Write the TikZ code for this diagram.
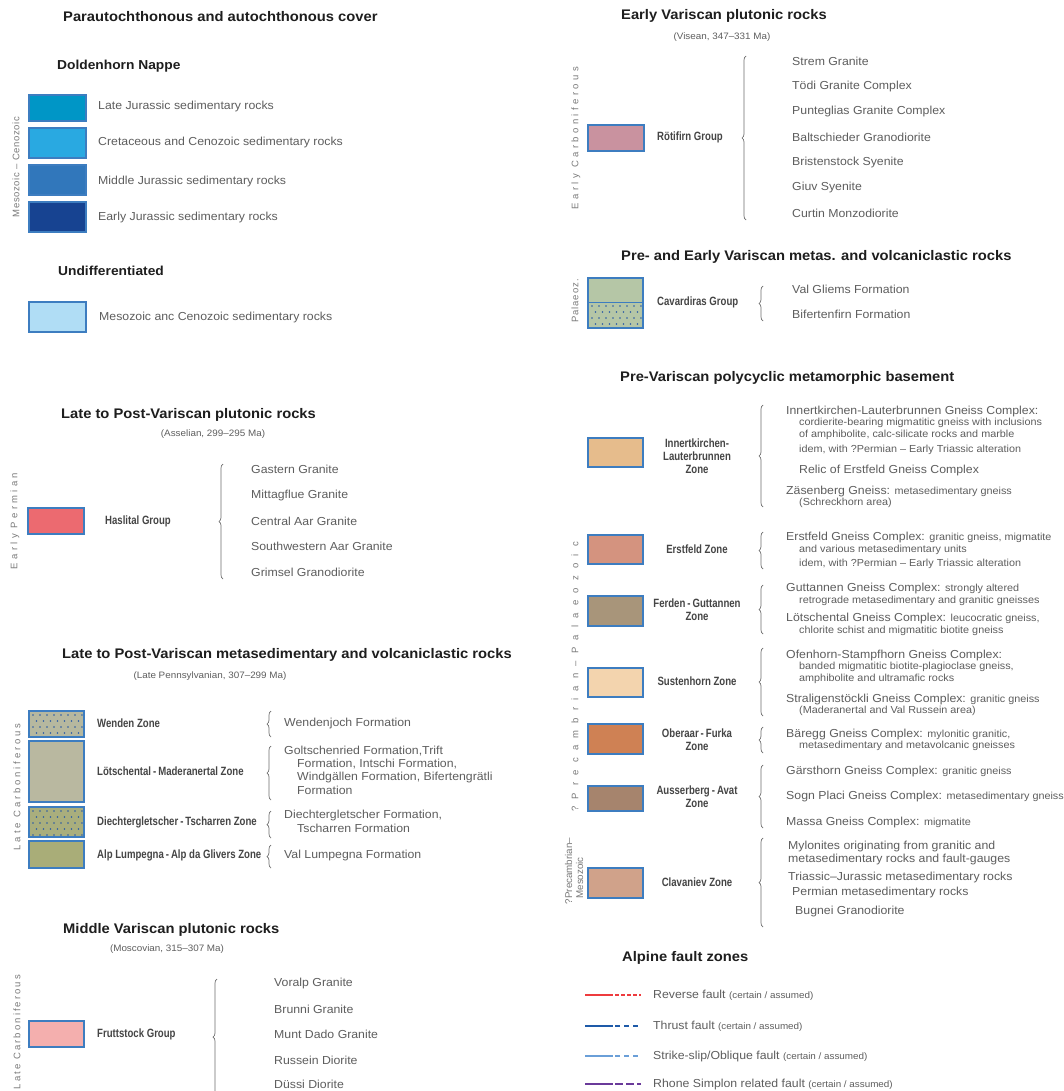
\documentclass[tikz,border=0pt]{standalone}
\usepackage{fontspec}
\setmainfont[FakeStretch=1.06]{Liberation Sans}
\newfontfamily\condfont[FakeStretch=0.8]{Liberation Sans}
\newfontfamily\rotfont{Liberation Sans}
\usetikzlibrary{decorations.pathreplacing}
\definecolor{txt}{HTML}{5E5E5E}
\definecolor{ttlc}{HTML}{1E1E1E}
\definecolor{grpc}{HTML}{454545}
\definecolor{rotc}{HTML}{7A7A7A}
\definecolor{boxc}{HTML}{3D7DC0}
\definecolor{brcc}{HTML}{6E6E6E}
\definecolor{dotc}{HTML}{2A5AA5}
\definecolor{cLJ}{HTML}{0096C6}
\definecolor{cCR}{HTML}{29A9E1}
\definecolor{cMJ}{HTML}{3177BB}
\definecolor{cEJ}{HTML}{174391}
\definecolor{cUD}{HTML}{B0DDF5}
\definecolor{cHA}{HTML}{EC6A70}
\definecolor{cWE}{HTML}{B6B89F}
\definecolor{cLO}{HTML}{B9B8A0}
\definecolor{cDI}{HTML}{A9AE7D}
\definecolor{cAL}{HTML}{A9AD78}
\definecolor{cFR}{HTML}{F4AFAE}
\definecolor{cRO}{HTML}{C9929F}
\definecolor{cCA}{HTML}{B5C6A6}
\definecolor{cIN}{HTML}{E6BC8C}
\definecolor{cER}{HTML}{D4937F}
\definecolor{cFE}{HTML}{A8957A}
\definecolor{cSU}{HTML}{F3D4AE}
\definecolor{cOB}{HTML}{CF8154}
\definecolor{cAU}{HTML}{A6846D}
\definecolor{cCL}{HTML}{D0A28A}
\definecolor{fRed}{HTML}{EE3B3E}
\definecolor{fBlue}{HTML}{1E5AA8}
\definecolor{fLight}{HTML}{6A9FD8}
\definecolor{fPurp}{HTML}{6A3A9A}
\newcommand\sml{\fontsize{10.2}{12}\selectfont}
\newcommand\cer{\fontsize{9.3}{11}\selectfont}
\newcommand\dotgrid[5]{%
  \begin{scope}
    \clip (#1+1.5,#2+1.5) rectangle (#3-1.5,#4-1.5);
    \foreach \r in {0,...,#5} {
      \foreach \c in {0,...,8} {
        \fill[dotc] ({#1+4+\c*7+mod(\r,2)*3.5},{#2+4+\r*6}) circle (0.8);
      }
    }
  \end{scope}}
\begin{document}
\begin{tikzpicture}[x=1pt,y=-1pt,
  ttl/.style={anchor=west, font=\fontsize{13.9}{16}\selectfont\bfseries, text=ttlc, inner sep=0},
  hd/.style={anchor=west, font=\fontsize{13}{15}\selectfont\bfseries, text=ttlc, inner sep=0},
  sub/.style={anchor=center, font=\cer, text=txt, inner sep=0},
  itm/.style={anchor=west, font=\fontsize{11.6}{13}\selectfont, text=txt, inner sep=0},
  sm/.style={anchor=west, font=\sml, text=txt, inner sep=0},
  grp/.style={anchor=west, font=\condfont\bfseries\fontsize{12}{14}\selectfont, text=grpc, inner sep=0},
  zone/.style={anchor=center, align=center, font=\condfont\bfseries\fontsize{12}{12.8}\selectfont, text=grpc, inner sep=0},
  swatch/.style={draw=boxc, line width=1.1pt, inner sep=0, outer sep=0, anchor=north west},
  brc/.style={draw=brcc, line width=0.7pt, decorate, decoration={brace, amplitude=4pt}},
  rot/.style={rotate=90, anchor=center, font=\rotfont\fontsize{9.5}{11}\selectfont, text=rotc, inner sep=0},
  fault/.style={line width=1.3pt}]
\useasboundingbox (0,0) rectangle (1063,1091);
\fill[white] (0,0) rectangle (1063,1091);

% ===================== LEFT COLUMN =====================
\node[ttl] (t1) at (63,17) {Parautochthonous and autochthonous cover};
\node[hd] (t1a) at (57,66) {Doldenhorn Nappe};
\node[swatch, fill=cLJ, minimum width=57, minimum height=26] (b11) at (29,95) {};
\node[swatch, fill=cCR, minimum width=57, minimum height=30] (b12) at (29,128) {};
\node[swatch, fill=cMJ, minimum width=57, minimum height=30] (b13) at (29,165) {};
\node[swatch, fill=cEJ, minimum width=57, minimum height=30] (b14) at (29,202) {};
\node[itm] (l11) at (98,107) {Late Jurassic sedimentary rocks};
\node[itm] (l12) at (98,143) {Cretaceous and Cenozoic sedimentary rocks};
\node[itm] (l13) at (98,182) {Middle Jurassic sedimentary rocks};
\node[itm] (l14) at (98,218) {Early Jurassic sedimentary rocks};
\node[rot] (r1) at (16,167) {\addfontfeature{LetterSpace=7}Mesozoic – Cenozoic};
\node[hd] (t1b) at (58,271) {Undifferentiated};
\node[swatch, fill=cUD, minimum width=57, minimum height=30] (b15) at (29,302) {};
\node[itm] (l15) at (99,317) {Mesozoic anc Cenozoic sedimentary rocks};

% Late to Post-Variscan plutonic rocks
\node[ttl] (t2) at (61,415) {Late to Post-Variscan plutonic rocks};
\node[sub] (s2) at (213,434) {(Asselian, 299–295 Ma)};
\node[swatch, fill=cHA, minimum width=56, minimum height=26] (b21) at (28,508) {};
\node[grp] (g21) at (105,521) {Haslital Group};
\draw[brc] (223,579) -- (223,464);
\node[itm] (l21) at (251,469) {Gastern Granite};
\node[itm] (l22) at (251,495) {Mittagflue Granite};
\node[itm] (l23) at (251,521) {Central Aar Granite};
\node[itm] (l24) at (251,546) {Southwestern Aar Granite};
\node[itm] (l25) at (251,572) {Grimsel Granodiorite};
\node[rot] (r2) at (15,521) {\addfontfeature{LetterSpace=35}Early Permian};

% Late to Post-Variscan metasedimentary
\node[ttl] (t3) at (62,655) {Late to Post-Variscan metasedimentary and volcaniclastic rocks};
\node[sub] (s3) at (210,676) {(Late Pennsylvanian, 307–299 Ma)};
\node[swatch, fill=cWE, minimum width=55, minimum height=26] (b31) at (29,711) {};
\dotgrid{29}{711}{84}{737}{3}
\node[swatch, fill=cLO, minimum width=55, minimum height=61] (b32) at (29,741) {};
\node[swatch, fill=cDI, minimum width=55, minimum height=30] (b33) at (29,807) {};
\dotgrid{29}{807}{84}{837}{4}
\node[swatch, fill=cAL, minimum width=55, minimum height=27] (b34) at (29,841) {};
\node[grp] (g31) at (97,723) {Wenden Zone};
\node[grp] (g32) at (97,771) {Lötschental\,-\,Maderanertal Zone};
\node[grp] (g33) at (97,822) {Diechtergletscher\,-\,Tscharren Zone};
\node[grp] (g34) at (97,855) {Alp Lumpegna\,-\,Alp da Glivers Zone};
\draw[brc] (271,737) -- (271,711);
\draw[brc] (271,800) -- (271,746);
\draw[brc] (271,838) -- (271,811);
\draw[brc] (271,868) -- (271,845);
\node[itm] (l31) at (284,723) {Wendenjoch Formation};
\node[itm] (l32) at (284,751) {Goltschenried Formation,Trift};
\node[itm] (l33) at (297,764) {Formation, Intschi Formation,};
\node[itm] (l34) at (297,777) {Windgällen Formation, Bifertengrätli};
\node[itm] (l35) at (297,790) {Formation};
\node[itm] (l36) at (284,815) {Diechtergletscher Formation,};
\node[itm] (l37) at (297,828) {Tscharren Formation};
\node[itm] (l38) at (284,855) {Val Lumpegna Formation};
\node[rot] (r3) at (17,787) {\addfontfeature{LetterSpace=30}Late Carboniferous};

% Middle Variscan plutonic rocks
\node[ttl] (t4) at (63,930) {Middle Variscan plutonic rocks};
\node[sub] (s4) at (167,949) {(Moscovian, 315–307 Ma)};
\node[swatch, fill=cFR, minimum width=55, minimum height=26] (b41) at (29,1021) {};
\node[grp] (g41) at (97,1034) {Fruttstock Group};
\draw[brc] (217,1095) -- (217,979);
\node[itm] (l41) at (274,983) {Voralp Granite};
\node[itm] (l42) at (274,1009) {Brunni Granite};
\node[itm] (l43) at (274,1034) {Munt Dado Granite};
\node[itm] (l44) at (274,1060) {Russein Diorite};
\node[itm] (l45) at (274,1084) {Düssi Diorite};
\node[rot] (r4) at (17,1032) {\addfontfeature{LetterSpace=22}Late Carboniferous};

% ===================== RIGHT COLUMN =====================
\node[ttl] (t5) at (621,16) {Early Variscan plutonic rocks};
\node[sub] (s5) at (722,37) {(Visean, 347–331 Ma)};
\node[swatch, fill=cRO, minimum width=56, minimum height=26] (b51) at (588,125) {};
\node[grp] (g51) at (657,137) {Rötifirn Group};
\draw[brc] (746,220) -- (746,56);
\node[itm] (l51) at (792,61) {Strem Granite};
\node[itm] (l52) at (792,87) {Tödi Granite Complex};
\node[itm] (l53) at (792,112) {Punteglias Granite Complex};
\node[itm] (l54) at (792,137) {Baltschieder Granodiorite};
\node[itm] (l55) at (792,163) {Bristenstock Syenite};
\node[itm] (l56) at (792,188) {Giuv Syenite};
\node[itm] (l57) at (792,213) {Curtin Monzodiorite};
\node[rot] (r5) at (576,138) {\addfontfeature{LetterSpace=36}Early Carboniferous};

% Pre- and Early Variscan metas.
\node[ttl] (t6) at (621,257) {Pre- and Early Variscan metas. and volcaniclastic rocks};
\node[swatch, fill=cCA, minimum width=55, minimum height=50] (b61) at (588,278) {};
\dotgrid{588}{302}{643}{328}{3}
\draw[boxc, line width=0.8pt] (b61.west |- 0,302) -- (b61.east |- 0,302);
\node[grp] (g61) at (657,302) {Cavardiras Group};
\draw[brc] (763,321) -- (763,286);
\node[itm] (l61) at (792,289) {Val Gliems Formation};
\node[itm] (l62) at (792,314) {Bifertenfirn Formation};
\node[rot] (r6) at (575,301) {\addfontfeature{LetterSpace=10}Palaeoz.};

% Pre-Variscan polycyclic metamorphic basement
\node[ttl] (t7) at (620,378) {Pre-Variscan polycyclic metamorphic basement};
\node[swatch, fill=cIN, minimum width=55, minimum height=29] (b71) at (588,438) {};
\node[zone] (z71) at (697,456) {Innertkirchen-\\Lauterbrunnen\\Zone};
\draw[brc] (763,507) -- (763,405);
\node[itm] (l71) at (786,411) {Innertkirchen-Lauterbrunnen Gneiss Complex:};
\node[sm] (l72) at (799,423) {cordierite-bearing migmatitic gneiss with inclusions};
\node[sm] (l73) at (799,435) {of amphibolite, calc-silicate rocks and marble};
\node[sm] (l74) at (799,450) {idem, with ?Permian – Early Triassic alteration};
\node[itm] (l75) at (799,470) {Relic of Erstfeld Gneiss Complex};
\node[itm] (l76) at (786,491) {Zäsenberg Gneiss: {\sml metasedimentary gneiss}};
\node[sm] (l77) at (799,503) {(Schreckhorn area)};

\node[swatch, fill=cER, minimum width=55, minimum height=29] (b72) at (588,535) {};
\node[zone] (z72) at (697,549) {Erstfeld Zone};
\draw[brc] (763,569) -- (763,532);
\node[itm] (l78) at (786,537) {Erstfeld Gneiss Complex: {\sml granitic gneiss, migmatite}};
\node[sm] (l79) at (799,550) {and various metasedimentary units};
\node[sm] (l80) at (799,564) {idem, with ?Permian – Early Triassic alteration};

\node[swatch, fill=cFE, minimum width=55, minimum height=30] (b73) at (588,596) {};
\node[zone] (z73) at (697,610) {Ferden\,-\,Guttannen\\Zone};
\draw[brc] (763,634) -- (763,585);
\node[itm] (l81) at (786,588) {Guttannen Gneiss Complex: {\sml strongly altered}};
\node[sm] (l82) at (799,601) {retrograde metasedimentary and granitic gneisses};
\node[itm] (l83) at (786,618) {Lötschental Gneiss Complex: {\sml leucocratic gneiss,}};
\node[sm] (l84) at (799,631) {chlorite schist and migmatitic biotite gneiss};

\node[swatch, fill=cSU, minimum width=55, minimum height=29] (b74) at (588,668) {};
\node[zone] (z74) at (697,681) {Sustenhorn Zone};
\draw[brc] (763,716) -- (763,648);
\node[itm] (l85) at (786,655) {Ofenhorn-Stampfhorn Gneiss Complex:};
\node[sm] (l86) at (799,667) {banded migmatitic biotite-plagioclase gneiss,};
\node[sm] (l87) at (799,679) {amphibolite and ultramafic rocks};
\node[itm] (l88) at (786,699) {Straligenstöckli Gneiss Complex: {\sml granitic gneiss}};
\node[sm] (l89) at (799,711) {(Maderanertal and Val Russein area)};

\node[swatch, fill=cOB, minimum width=55, minimum height=30] (b75) at (588,724) {};
\node[zone] (z75) at (697,739.5) {Oberaar\,-\,Furka\\Zone};
\draw[brc] (763,753) -- (763,727);
\node[itm] (l90) at (786,734) {Bäregg Gneiss Complex: {\sml mylonitic granitic,}};
\node[sm] (l91) at (799,746) {metasedimentary and metavolcanic gneisses};

\node[swatch, fill=cAU, minimum width=55, minimum height=25] (b76) at (588,786) {};
\node[zone] (z76) at (697,797) {Ausserberg\,-\,Avat\\Zone};
\draw[brc] (763,828) -- (763,765);
\node[itm] (l92) at (786,771) {Gärsthorn Gneiss Complex: {\sml granitic gneiss}};
\node[itm] (l93) at (786,796) {Sogn Placi Gneiss Complex: {\sml metasedimentary gneiss}};
\node[itm] (l94) at (786,822) {Massa Gneiss Complex: {\sml migmatite}};
\node[rot] (r7) at (575,677) {\addfontfeature{LetterSpace=76}?Precambrian–Palaeozoic};

\node[swatch, fill=cCL, minimum width=55, minimum height=30] (b77) at (588,868) {};
\node[zone] (z77) at (697,882) {Clavaniev Zone};
\draw[brc] (763,927) -- (763,838);
\node[itm] (l95) at (788,846) {Mylonites originating from granitic and};
\node[itm] (l96) at (788,859) {metasedimentary rocks and fault-gauges};
\node[itm] (l97) at (788,877) {Triassic–Jurassic metasedimentary rocks};
\node[itm] (l98) at (792,892) {Permian metasedimentary rocks};
\node[itm] (l99) at (795,911) {Bugnei Granodiorite};
\node[rot, align=center, font=\rotfont\fontsize{9.8}{11}\selectfont] (r8) at (574,871) {?Precambrian–\\Mesozoic\phantom{Me}};

% Alpine fault zones
\node[ttl] (t8) at (622,958) {Alpine fault zones};
\coordinate (fa1) at (585,995);  \coordinate (fa2) at (613,995);  \coordinate (fa3) at (641,995);
\coordinate (fb1) at (585,1026); \coordinate (fb2) at (613,1026); \coordinate (fb3) at (641,1026);
\coordinate (fc1) at (585,1056); \coordinate (fc2) at (613,1056); \coordinate (fc3) at (641,1056);
\coordinate (fd1) at (585,1084); \coordinate (fd2) at (613,1084); \coordinate (fd3) at (641,1084);
\draw[fault, draw=fRed, line width=1.1pt] (fa1) -- (fa2);
\draw[fault, draw=fRed, line width=1.1pt, dash pattern=on 3.5pt off 2.5pt] ([xshift=2pt]fa2) -- (fa3);
\draw[fault, draw=fBlue] (fb1) -- (fb2);
\draw[fault, draw=fBlue, dash pattern=on 5pt off 4pt] ([xshift=2pt]fb2) -- (fb3);
\draw[fault, draw=fLight] (fc1) -- (fc2);
\draw[fault, draw=fLight, dash pattern=on 5pt off 4pt] ([xshift=2pt]fc2) -- (fc3);
\draw[fault, draw=fPurp, line width=1.8pt] (fd1) -- (fd2);
\draw[fault, draw=fPurp, line width=1.8pt, dash pattern=on 8pt off 3pt] ([xshift=2pt]fd2) -- (fd3);
\node[itm] (la) at (653,995) {Reverse fault {\cer (certain / assumed)}};
\node[itm] (lb) at (653,1026) {Thrust fault {\cer (certain / assumed)}};
\node[itm] (lc) at (653,1056) {Strike-slip/Oblique fault {\cer (certain / assumed)}};
\node[itm] (ld) at (653,1084) {Rhone Simplon related fault {\cer (certain / assumed)}};
\end{tikzpicture}
\end{document}
